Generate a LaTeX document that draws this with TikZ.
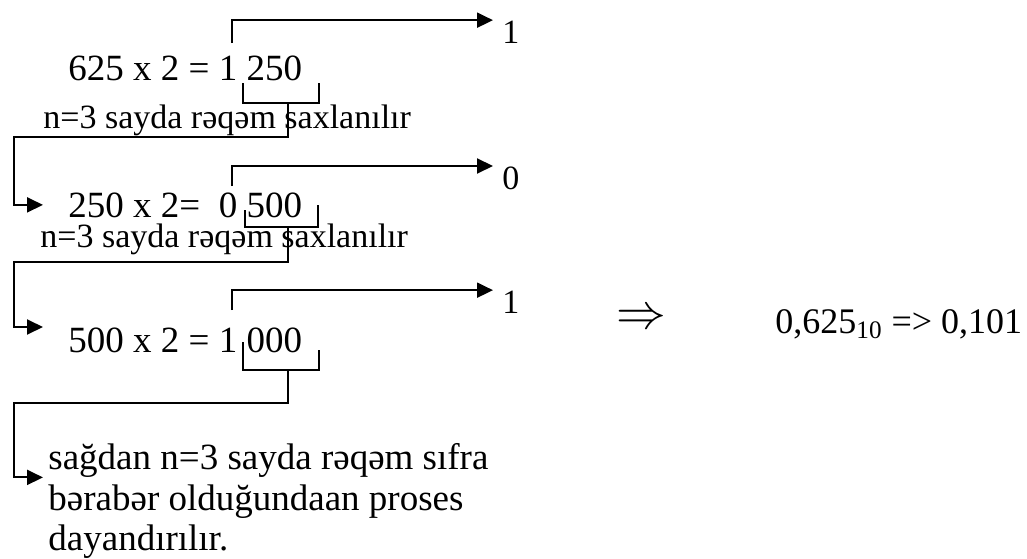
\documentclass[tikz,border=0pt]{standalone}
\usepackage{fontspec}
\setmainfont{Liberation Serif}
\usetikzlibrary{arrows.meta}
\tikzstyle{hesab}=[anchor=base west, inner xsep=12.5pt, inner ysep=0pt, font=\fontsize{18.5}{22}\selectfont]
\tikzstyle{reqem}=[anchor=base west, inner xsep=4.5pt, inner ysep=0pt, font=\fontsize{17}{20}\selectfont]
\tikzstyle{izah}=[anchor=base west, inner sep=0pt, font=\fontsize{17}{20}\selectfont]
\tikzstyle{son}=[anchor=base west, inner sep=0pt, font=\fontsize{18.5}{22}\selectfont]
\tikzstyle{xett}=[line width=1pt]
\tikzstyle{ox}=[line width=1pt, -{Triangle[length=8pt,width=7.5pt]}]
\newcommand{\hesab}{\node[hesab]}
\newcommand{\reqem}{\node[reqem]}
\newcommand{\izah}{\node[izah]}
\newcommand{\son}{\node[son]}

\begin{document}
\begin{tikzpicture}[x=0.5pt,y=-0.5pt]
            \useasboundingbox (0,0) rectangle (1027,558);
            % hesablama
            \hesab (s1) at (43,80) {625 x 2 = 1 250};
            \hesab (s2) at (43,217) {250 x 2=\ \ 0 500};
            \hesab (s3) at (43,352) {500 x 2 = 1 000};
            \reqem (r1) at (493,43) {1};
            \reqem (r2) at (493,189) {0};
            \reqem (r3) at (493,313) {1};
            \izah (n1) at (43,128) {n=3 sayda rəqəm saxlanılır};
            \izah (n2) at (40,247) {n=3 sayda rəqəm saxlanılır};
            \son (p1) at (48,469) {sağdan n=3 sayda rəqəm sıfra};
            \son (p2) at (48,510) {bərabər olduğundaan proses};
            \son (p3) at (48,550) {dayandırılır.};
            \node (imp) at (641,319) {\fontsize{24.88}{28}\selectfont$\Rightarrow$};
            \node[izah, font=\fontsize{18}{21}\selectfont] (res) at (775,333) {0,625\textsubscript{10} => 0,101};
            \coordinate (t1) at (232,43);
            \coordinate (t2) at (232,186);
            \coordinate (t3) at (232,310);
            \coordinate (k1) at (288,103);
            \coordinate (k2) at (288,227);
            \coordinate (k3) at (288,370);
            \coordinate (c1) at (14,137);
            \coordinate (c2) at (14,262);
            \coordinate (c3) at (14,403);
            % saxlanan reqemler
            \draw[xett] (243,83) |- (319,103) -- (319,83);
            \draw[xett] (245,210) |- (318,227) -- (318,205);
            \draw[xett] (243,342) |- (319,370) -- (319,350);
            \draw[ox] (t1) |- (r1.north west);
            \draw[ox] (t2) |- (r2.north west);
            \draw[ox] (t3) |- (r3.north west);
            \draw[ox] (k1) |- (c1) |- (s2.west);
            \draw[ox] (k2) |- (c2) |- (s3.north west);
            \draw[ox, shorten >=2.5pt] (k3) |- (c3) |- (p1.south west);
        \end{tikzpicture}
\end{document}
